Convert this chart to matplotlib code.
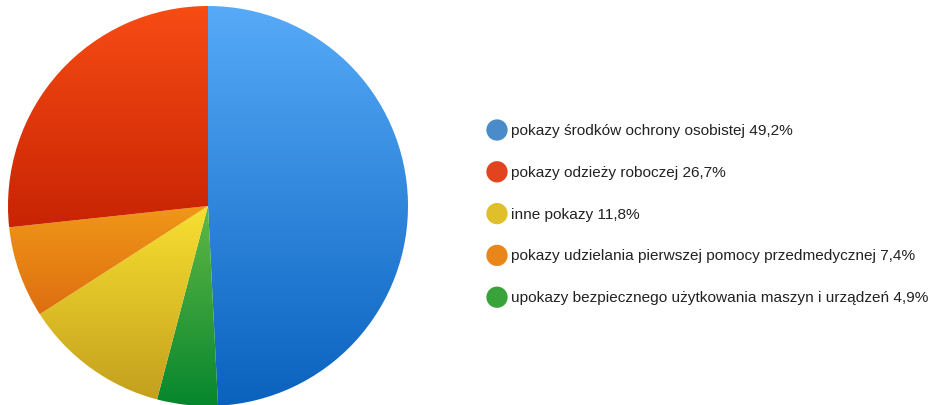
import matplotlib
matplotlib.use('Agg')
import matplotlib.pyplot as plt
from matplotlib.colors import LinearSegmentedColormap
import numpy as np

# Data
labels = ['pokazy środków ochrony osobistej 49,2%',
          'pokazy odzieży roboczej 26,7%',
          'inne pokazy 11,8%',
          'pokazy udzielania pierwszej pomocy przedmedycznej 7,4%',
          'upokazy bezpiecznego użytkowania maszyn i urządzeń 4,9%']
values = [49.2, 26.7, 11.8, 7.4, 4.9]
legend_colors = ['#4a8bc9', '#e2441f', '#dfc02a', '#e8861a', '#3aa23a']
grad_top = ['#56aaf8', '#f84c14', '#f8e030', '#f09818', '#62b844']
grad_bottom = ['#0a62be', '#c82404', '#c4a01e', '#de6e10', '#06862e']

# pie order clockwise from 12 o'clock
pie_order = [0, 4, 2, 3, 1]

plt.rcParams['font.family'] = ['Liberation Sans', 'DejaVu Sans']

fig = plt.figure(figsize=(9.31, 4.06), dpi=100)
W, H = 931, 406

# Pie axes, center ~ (208, 207) px, radius ~ 200 px
cx, cy, r = 208, 207, 200
ax = fig.add_axes([(cx - r) / W, (H - cy - r) / H, 2 * r / W, 2 * r / H])
wedges, _ = ax.pie([values[i] for i in pie_order], startangle=90, counterclock=False,
                   radius=1, colors=['none'] * 5, wedgeprops={'linewidth': 0})
ax.set_xlim(-1, 1)
ax.set_ylim(-1, 1)
ax.set_aspect('equal')
ax.axis('off')

fig.canvas.draw()
for w, i in zip(wedges, pie_order):
    verts = w.get_path().vertices
    y0, y1 = verts[:, 1].min(), verts[:, 1].max()
    x0, x1 = verts[:, 0].min(), verts[:, 0].max()
    cmap = LinearSegmentedColormap.from_list('g%d' % i, [grad_bottom[i], grad_top[i]])
    grad = np.linspace(0, 1, 256).reshape(-1, 1)
    im = ax.imshow(grad, cmap=cmap, origin='lower', aspect='auto',
                   extent=(x0, x1, y0, y1), interpolation='bilinear')
    im.set_clip_path(w)
ax.set_xlim(-1, 1)
ax.set_ylim(-1, 1)

# Legend
lax = fig.add_axes([0, 0, 1, 1])
lax.set_xlim(0, W)
lax.set_ylim(H, 0)
lax.axis('off')
ys = [131 + 41.8 * k for k in range(len(labels))]
lax.scatter([497] * len(labels), ys, s=235, c=legend_colors, linewidths=0)
for y, lab in zip(ys, labels):
    lax.text(511, y, lab, fontsize=11.05, va='center', ha='left', color='#222222')

fig.savefig('out.png', dpi=100)
